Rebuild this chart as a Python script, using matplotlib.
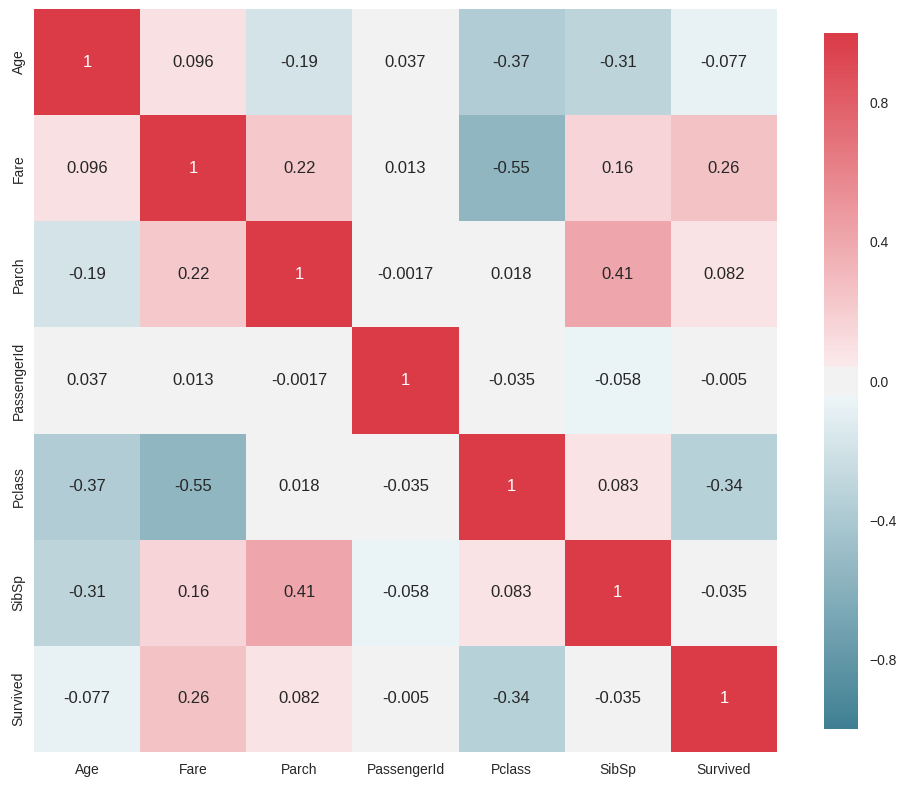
import colorsys
import matplotlib
matplotlib.use("Agg")
import matplotlib.pyplot as plt
from matplotlib import colors
import numpy as np
import pandas as pd
import seaborn as sns
from seaborn.external import husl

features = ["Age", "Fare", "Parch", "PassengerId", "Pclass", "SibSp", "Survived"]
age = [1, 0.096, -0.19, 0.037, -0.37, -0.31, -0.077]
fare = [0.096, 1, 0.22, 0.013, -0.55, 0.16, 0.26]
parch = [-0.19, 0.22, 1, -0.0017, 0.018, 0.41, 0.082]
passenger_id = [0.037, 0.013, -0.0017, 1, -0.035, -0.058, -0.005]
pclass = [-0.37, -0.55, 0.018, -0.035, 1, 0.083, -0.34]
sibsp = [-0.31, 0.16, 0.41, -0.058, 0.083, 1, -0.035]
survived = [-0.077, 0.26, 0.082, -0.005, -0.34, -0.035, 1]

corr = pd.DataFrame([age, fare, parch, passenger_id, pclass, sibsp, survived],
                    index=features, columns=features)


def old_light_ramp(h, n, reverse=False):
    # light_palette as older seaborn built it: same hue/sat, lightness .95
    base = np.clip(husl.husl_to_rgb(h, 75, 50), 0, 1)
    hh, ll, ss = colorsys.rgb_to_hls(*base)
    light = colorsys.hls_to_rgb(hh, .95, ss)
    ends = [base, light] if reverse else [light, base]
    ramp = colors.LinearSegmentedColormap.from_list("r", ends)
    return ramp(np.linspace(0, 1, n))[:, :3]


def old_diverging(h_neg, h_pos, sep=10):
    n_half = int(128 - sep / 2)
    neg = old_light_ramp(h_neg, n_half, reverse=True)
    pos = old_light_ramp(h_pos, n_half)
    mid = np.array([(.95, .95, .95)] * sep)
    return colors.LinearSegmentedColormap.from_list(
        "blend", np.concatenate([neg, mid, pos]))


sns.set_style("white")
plt.rcParams["font.family"] = ["Liberation Sans", "DejaVu Sans"]
plt.rcParams["text.color"] = "#262626"
plt.rcParams["xtick.color"] = "#262626"
plt.rcParams["ytick.color"] = "#262626"

fig = plt.figure(figsize=(9.06, 7.87), dpi=100)
ax = fig.add_axes([0.0375, 0.0445, 0.8201, 0.9441])
cax = fig.add_axes([0.9095, 0.0737, 0.0375, 0.8843])

cmap = old_diverging(220, 10)
sns.heatmap(corr, ax=ax, cbar_ax=cax, cmap=cmap, vmin=-1, vmax=1,
            annot=True, fmt=".2g", annot_kws={"size": 12})

ax.tick_params(axis="both", length=0, labelsize=10)
ax.tick_params(axis="x", pad=8)
ax.tick_params(axis="y", pad=6)
ax.set_yticklabels(features, rotation=90, va="center")
ax.set_xticklabels(features, rotation=0)
cbar = ax.collections[0].colorbar
cbar.set_ticks([-0.8, -0.4, 0.0, 0.4, 0.8])
cbar.outline.set_visible(False)
cax.tick_params(length=0, labelsize=10, pad=8)

fig.savefig("out.png", dpi=100)
